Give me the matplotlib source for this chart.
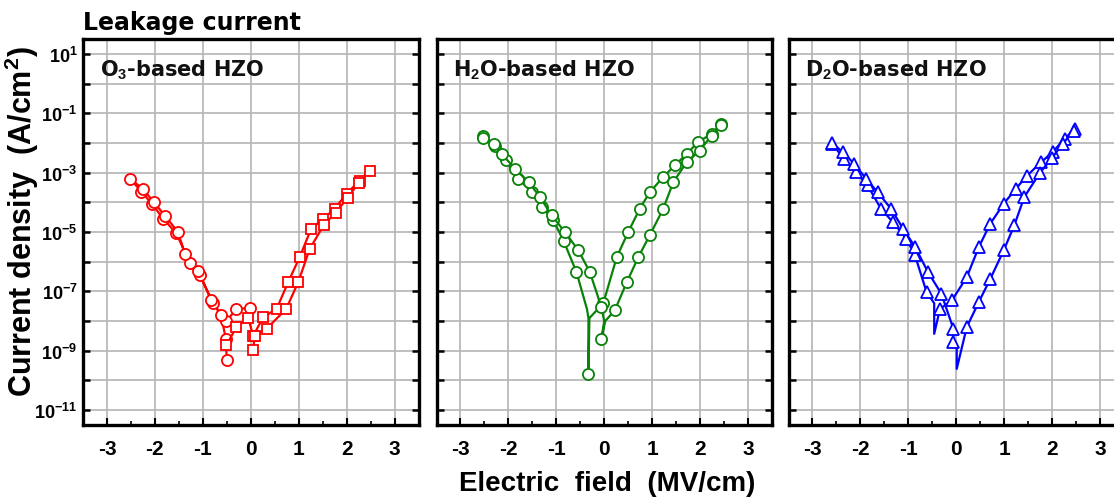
import numpy as np
import matplotlib
matplotlib.use("Agg")
import matplotlib.pyplot as plt
from matplotlib.ticker import FixedLocator, FuncFormatter, LogLocator, NullFormatter, MultipleLocator

plt.rcParams['font.family'] = ['Liberation Sans', 'DejaVu Sans']
plt.rcParams['font.weight'] = 'bold'
plt.rcParams['mathtext.fontset'] = 'custom'
plt.rcParams['mathtext.rm'] = 'Liberation Sans:bold'
plt.rcParams['mathtext.bf'] = 'Liberation Sans:bold'
plt.rcParams['mathtext.it'] = 'Liberation Sans:bold'

# ---------------- data (x in MV/cm, log10 of J in A/cm^2) ----------------
panel_titles = [r"O$_3$-based HZO", r"H$_2$O-based HZO", r"D$_2$O-based HZO"]
x_ticks = [-3, -2, -1, 0, 1, 2, 3]
y_exponents = [1, -1, -3, -5, -7, -9, -11]

# O3-based: circle sweep (negative side, out and back), square sweep (positive side)
o3_circ_x = [-0.02, -0.30, -0.51, -0.79, -1.06, -1.27, -1.55, -1.83, -2.06, -2.28, -2.51,
             -2.25, -2.02, -1.79, -1.52, -1.37, -1.10, -0.82, -0.62, -0.52, -0.50]
o3_circ_logj = [-7.55, -7.60, -8.00, -7.40, -6.45, -6.05, -5.05, -4.55, -4.05, -3.65, -3.21,
                -3.55, -4.00, -4.45, -5.00, -5.75, -6.30, -7.30, -7.80, -8.60, -9.30]
o3_sq_x = [-0.51, -0.30, -0.05, 0.05, 0.26, 0.54, 0.78, 1.02, 1.26, 1.51, 1.75, 2.00, 2.27, 2.48,
           2.25, 2.02, 1.77, 1.53, 1.23, 0.99, 0.74, 0.33, 0.08, 0.05]
o3_sq_logj = [-8.82, -8.20, -7.90, -8.50, -7.87, -7.59, -6.69, -5.85, -4.89, -4.56, -4.22, -3.71, -3.27, -2.93,
              -3.35, -3.85, -4.35, -4.75, -5.57, -6.69, -7.59, -8.26, -8.50, -8.99]

# H2O-based: two sweeps
h2o_s1_x = [-2.52, -2.28, -2.06, -1.79, -1.51, -1.30, -1.06, -0.85, -0.58, -0.36, -0.33, -0.33, -0.31,
            -0.02, 0.26, 0.50, 0.74, 0.95, 1.23, 1.47, 1.72, 1.96, 2.24, 2.44]
h2o_s1_logj = [-1.75, -2.10, -2.59, -3.21, -3.66, -4.16, -4.61, -5.29, -6.35, -7.60, -7.90, -9.77, -7.90,
               -7.40, -5.85, -5.00, -4.22, -3.66, -3.15, -2.76, -2.37, -1.97, -1.69, -1.36]
h2o_s2_x = [-2.52, -2.31, -2.14, -1.86, -1.58, -1.34, -1.10, -0.82, -0.54, -0.30, -0.06, 0.00, -0.06,
            0.02, 0.22, 0.47, 0.71, 0.95, 1.23, 1.44, 1.72, 1.99, 2.24, 2.44]
h2o_s2_logj = [-1.85, -2.03, -2.37, -2.87, -3.32, -3.82, -4.44, -5.00, -5.62, -6.35, -7.53, -8.00, -8.60,
               -8.00, -7.64, -6.69, -5.85, -5.11, -4.22, -3.32, -2.65, -2.26, -1.75, -1.40]

# D2O-based: two sweeps
d2o_s1_x = [-2.59, -2.34, -2.09, -1.85, -1.57, -1.32, -1.04, -0.86, -0.62, -0.46, -0.46, -0.34,
            -0.09, 0.22, 0.47, 0.71, 0.99, 1.24, 1.48, 1.77, 2.01, 2.26, 2.47]
d2o_s1_logj = [-2.03, -2.54, -2.98, -3.43, -4.22, -4.67, -5.23, -5.79, -7.02, -7.40, -8.43, -7.59,
               -7.30, -6.52, -5.51, -4.72, -4.05, -3.55, -3.10, -2.65, -2.31, -1.86, -1.53]
d2o_s2_x = [-2.59, -2.37, -2.13, -1.88, -1.64, -1.36, -1.11, -0.86, -0.59, -0.31, -0.06, -0.06, 0.01,
            0.01, 0.22, 0.47, 0.71, 0.99, 1.21, 1.42, 1.75, 2.00, 2.22, 2.45]
d2o_s2_logj = [-2.00, -2.31, -2.70, -3.21, -3.66, -4.22, -4.89, -5.50, -6.35, -7.08, -8.26, -8.71, -8.90,
               -9.61, -8.20, -7.36, -6.58, -5.62, -4.78, -3.82, -3.00, -2.50, -2.03, -1.60]

# ---------------- styles ----------------
panel_series = [
    [(o3_circ_x, o3_circ_logj, 'o', None), (o3_sq_x, o3_sq_logj, 's', None)],
    [(h2o_s1_x, h2o_s1_logj, 'o', [i for i in range(24) if i not in (9, 10, 12)]),
     (h2o_s2_x, h2o_s2_logj, 'o', [i for i in range(24) if i not in (11, 13)])],
    [(d2o_s1_x, d2o_s1_logj, '^', [i for i in range(23) if i not in (9, 10)]),
     (d2o_s2_x, d2o_s2_logj, '^', [i for i in range(24) if i not in (12, 13)])],
]
colors = ['#ff0000', '#0a820a', '#0000ff']
W, H = 1114, 502
fig = plt.figure(figsize=(W / 100, H / 100), dpi=100)

lefts = [83, 436.5, 788.5]
ax_w = 335.5
bottom_px, top_px = 426, 40
title_font = ['DejaVu Sans']

for p in range(3):
    ax = fig.add_axes([lefts[p] / W, (H - bottom_px) / H, ax_w / W, (bottom_px - top_px) / H])
    ax.set_yscale('log')
    ax.set_xlim(-3.5, 3.5)
    ax.set_ylim(10 ** -11.5, 10 ** 1.5)
    for sx, sy, mk, mevery in panel_series[p]:
        ms = 8 if mk == 'o' else (7.5 if mk == 's' else 8)
        ax.plot(sx, 10 ** np.asarray(sy), color=colors[p], lw=1.6, marker=mk, ms=ms,
                mfc='white', mec=colors[p], mew=1.3, markevery=mevery, zorder=3)
    ax.xaxis.set_major_locator(FixedLocator(x_ticks))
    ax.xaxis.set_minor_locator(MultipleLocator(0.5))
    ax.yaxis.set_major_locator(FixedLocator([10.0 ** k for k in range(-11, 2)]))
    ax.yaxis.set_minor_locator(LogLocator(base=10, subs=np.arange(2, 10)))
    ax.yaxis.set_minor_formatter(NullFormatter())
    ax.grid(True, which='major', color='#b4b4b4', lw=1.2, zorder=0)
    ax.set_axisbelow(True)
    if p == 0:
        ax.yaxis.set_major_formatter(FuncFormatter(
            lambda v, pos: (r"$\mathbf{10^{%d}}$" % round(np.log10(v))) if round(np.log10(v)) in y_exponents else ""))
    else:
        ax.yaxis.set_major_formatter(NullFormatter())
    ax.xaxis.set_major_formatter(FuncFormatter(lambda v, pos: "%d" % v))
    right_ticks = p < 2
    ax.tick_params(axis='x', which='major', direction='in', length=5, width=1.5, labelsize=15, pad=10, top=False)
    ax.tick_params(axis='x', which='minor', direction='in', length=3, width=1.2, top=False)
    ax.tick_params(axis='y', which='major', direction='in', length=5, width=1.8, labelsize=13, pad=4, right=right_ticks)
    ax.tick_params(axis='y', which='minor', direction='in', length=3, width=1.2, right=right_ticks)
    for s in ax.spines.values():
        s.set_linewidth(2.4)
        s.set_color('black')
    ax.text(0.05, 0.922, panel_titles[p], transform=ax.transAxes, fontsize=15, fontweight='bold',
            family=title_font, ha='left', va='center', color='#111111')

fig.text(83 / W, 1 - 23 / H, "Leakage current", fontsize=17, fontweight='bold', family=title_font,
         ha='left', va='center')
fig.text(607 / W, 1 - 484 / H, "Electric  field  (MV/cm)", fontsize=20, fontweight='bold', ha='center', va='center')
fig.text(22 / W, 1 - 222 / H, r"Current density  (A/cm$^\mathbf{2}$)", fontsize=22, fontweight='bold',
         ha='center', va='center', rotation=90)

fig.savefig("out.png", dpi=100)
